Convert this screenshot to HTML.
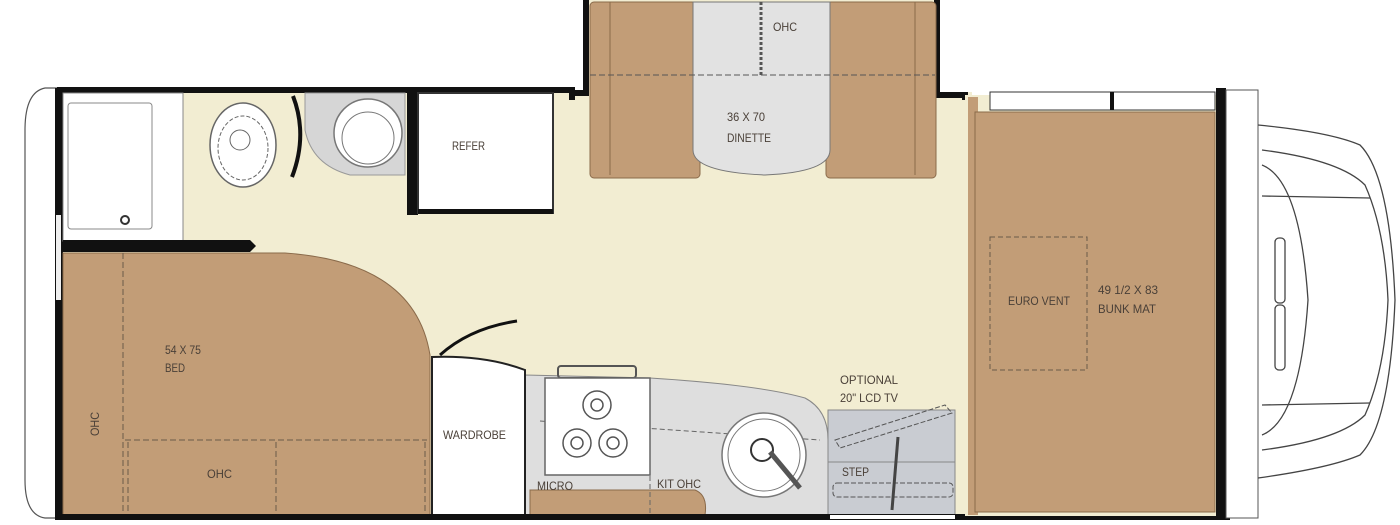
<!DOCTYPE html>
<html><head><meta charset="utf-8"><style>
html,body{margin:0;padding:0;background:#fff;}
svg{display:block;}
text{font-family:"Liberation Sans Narrow","Liberation Sans",sans-serif;font-size:12px;fill:#4a4038;}
</style></head><body>
<svg width="1400" height="525" viewBox="0 0 1400 525" xmlns="http://www.w3.org/2000/svg">
<path d="M57 88 L45 88 Q25 92 25 130 L25 480 Q25 515 45 518 L57 518 Z" fill="#fff" stroke="#555" stroke-width="1.2"/>
<rect x="60" y="92" width="912" height="424" fill="#f2edd2"/>
<rect x="588" y="0" width="348" height="100" fill="#f2edd2"/>
<path d="M572 100 L572 93 L586 93 L586 0" fill="none" stroke="#111" stroke-width="6"/>
<path d="M937 0 L937 95 L965 95 L965 100" fill="none" stroke="#111" stroke-width="6"/>
<rect x="57" y="87" width="518" height="6" fill="#111"/>
<rect x="590" y="2" width="110" height="176" rx="4" fill="#c29d77" stroke="#8a6a4a"/>
<line x1="610" y1="2" x2="610" y2="175" stroke="#8a6a4a"/>
<rect x="826" y="2" width="110" height="176" rx="4" fill="#c29d77" stroke="#8a6a4a"/>
<line x1="915" y1="2" x2="915" y2="175" stroke="#8a6a4a"/>
<path d="M693 2 L830 2 L830 150 Q830 172 765 175 Q693 172 693 150 Z" fill="#e2e2e2" stroke="#777"/>
<line x1="590" y1="75" x2="935" y2="75" stroke="#555" stroke-dasharray="6,3"/>
<line x1="761" y1="2" x2="761" y2="75" stroke="#555" stroke-width="3" stroke-dasharray="3,2"/>
<text x="773" y="31" textLength="24" lengthAdjust="spacingAndGlyphs">OHC</text>
<text x="727" y="121" textLength="38" lengthAdjust="spacingAndGlyphs">36 X 70</text>
<text x="727" y="142" textLength="44" lengthAdjust="spacingAndGlyphs">DINETTE</text>
<rect x="55" y="88" width="8" height="430" fill="#111"/>
<rect x="56" y="215" width="5" height="85" fill="#eee"/>
<rect x="63" y="93" width="120" height="148" fill="#fff" stroke="#888"/>
<rect x="68" y="103" width="84" height="126" rx="3" fill="#fff" stroke="#888"/>
<circle cx="125" cy="220" r="4" fill="none" stroke="#333" stroke-width="2"/>
<path d="M63 240 L250 240 L256 246 L250 252 L63 252 Z" fill="#111"/>
<ellipse cx="243" cy="145" rx="33" ry="42" fill="#fff" stroke="#666" stroke-width="1.5"/>
<ellipse cx="243" cy="148" rx="25" ry="32" fill="none" stroke="#666" stroke-dasharray="4,2"/>
<circle cx="240" cy="140" r="10" fill="none" stroke="#666"/>
<path d="M293 96 Q308 135 292 177" fill="none" stroke="#111" stroke-width="4"/>
<path d="M305 93 L405 93 L405 175 L350 175 Q312 165 305 130 Z" fill="#d6d6d6" stroke="#999"/>
<circle cx="368" cy="133" r="34" fill="#fff" stroke="#777" stroke-width="1.5"/>
<circle cx="368" cy="138" r="26" fill="#fff" stroke="#777"/>
<rect x="407" y="93" width="11" height="122" fill="#111"/>
<rect x="418" y="93" width="135" height="120" fill="#fff" stroke="#333" stroke-width="2"/>
<rect x="418" y="209" width="135" height="5" fill="#111"/>
<text x="452" y="150" textLength="33" lengthAdjust="spacingAndGlyphs">REFER</text>
<path d="M63 253 L285 253 Q415 262 430 355 L430 515 L63 515 Z" fill="#c29d77" stroke="#8a6a4a"/>
<line x1="123" y1="253" x2="123" y2="515" stroke="#6a5a4a" stroke-dasharray="6,3"/>
<line x1="125" y1="440" x2="427" y2="440" stroke="#6a5a4a" stroke-dasharray="6,3"/>
<line x1="128" y1="442" x2="128" y2="515" stroke="#6a5a4a" stroke-dasharray="6,3"/>
<line x1="276" y1="442" x2="276" y2="515" stroke="#6a5a4a" stroke-dasharray="6,3"/>
<line x1="425" y1="442" x2="425" y2="515" stroke="#6a5a4a" stroke-dasharray="6,3"/>
<text x="165" y="354" textLength="36" lengthAdjust="spacingAndGlyphs">54 X 75</text>
<text x="165" y="372" textLength="20" lengthAdjust="spacingAndGlyphs">BED</text>
<text x="0" y="0" transform="translate(99,436) rotate(-90)" textLength="24" lengthAdjust="spacingAndGlyphs">OHC</text>
<text x="207" y="478" textLength="25" lengthAdjust="spacingAndGlyphs">OHC</text>
<path d="M440 355 Q470 328 517 321" fill="none" stroke="#111" stroke-width="3"/>
<path d="M525 375 L650 378 Q760 385 805 398 Q828 410 828 440 L828 515 L525 515 Z" fill="#dedede" stroke="#888"/>
<path d="M530 490 L695 490 Q708 495 705 515 L530 515 Z" fill="#c29d77" stroke="#8a6a4a"/>
<line x1="547" y1="413" x2="650" y2="413" stroke="#666" stroke-dasharray="5,3"/>
<line x1="540" y1="421" x2="820" y2="440" stroke="#666" stroke-dasharray="5,3"/>
<line x1="650" y1="380" x2="650" y2="515" stroke="#666" stroke-dasharray="5,3"/>
<rect x="558" y="366" width="78" height="12" rx="3" fill="none" stroke="#555" stroke-width="2"/>
<rect x="545" y="378" width="105" height="97" fill="#fff" stroke="#666" stroke-width="1.5"/>
<g fill="none" stroke="#555" stroke-width="1.5">
<circle cx="597" cy="405" r="14"/><circle cx="597" cy="405" r="6"/>
<circle cx="577" cy="443" r="14"/><circle cx="577" cy="443" r="6"/>
<circle cx="613" cy="443" r="14"/><circle cx="613" cy="443" r="6"/>
</g>
<circle cx="764" cy="455" r="42" fill="#fff" stroke="#777" stroke-width="1.5"/>
<circle cx="764" cy="455" r="36" fill="none" stroke="#777"/>
<circle cx="762" cy="450" r="11" fill="#fff" stroke="#333" stroke-width="2"/>
<path d="M770 452 L800 488" stroke="#555" stroke-width="5" fill="none"/>
<text x="537" y="490" textLength="36" lengthAdjust="spacingAndGlyphs">MICRO</text>
<text x="657" y="488" textLength="44" lengthAdjust="spacingAndGlyphs">KIT OHC</text>
<path d="M432 357 Q485 355 525 370 L525 515 L432 515 Z" fill="#fff" stroke="#222" stroke-width="2"/>
<text x="443" y="439" textLength="63" lengthAdjust="spacingAndGlyphs">WARDROBE</text>
<rect x="828" y="410" width="127" height="105" fill="#c9ccd2" stroke="#888"/>
<line x1="828" y1="462" x2="955" y2="462" stroke="#888"/>
<path d="M835 440 L945 405 L952 413 L840 448 Z" fill="none" stroke="#555" stroke-dasharray="5,2"/>
<rect x="833" y="483" width="120" height="14" rx="4" fill="none" stroke="#555" stroke-dasharray="5,2"/>
<path d="M898 437 L892 510" stroke="#444" stroke-width="3"/>
<text x="840" y="384" textLength="58" lengthAdjust="spacingAndGlyphs">OPTIONAL</text>
<text x="840" y="402" textLength="58" lengthAdjust="spacingAndGlyphs">20" LCD TV</text>
<text x="842" y="476" textLength="27" lengthAdjust="spacingAndGlyphs">STEP</text>
<rect x="55" y="514" width="1175" height="6" fill="#111"/>
<rect x="830" y="515" width="125" height="4" fill="#fff"/>
<rect x="965" y="95" width="262" height="421" fill="#f2edd2"/>
<rect x="968" y="97" width="10" height="418" fill="#c29d77"/>
<rect x="975" y="112" width="240" height="400" fill="#c29d77" stroke="#8a6a4a"/>
<rect x="990" y="92" width="225" height="18" fill="#fff" stroke="#333"/>
<line x1="1112" y1="92" x2="1112" y2="110" stroke="#111" stroke-width="4"/>
<rect x="990" y="237" width="97" height="133" fill="none" stroke="#6a5a4a" stroke-dasharray="5,3"/>
<text x="1008" y="305" textLength="62" lengthAdjust="spacingAndGlyphs">EURO VENT</text>
<text x="1098" y="294" textLength="60" lengthAdjust="spacingAndGlyphs">49 1/2 X 83</text>
<text x="1098" y="313" textLength="58" lengthAdjust="spacingAndGlyphs">BUNK MAT</text>
<rect x="1216" y="88" width="10" height="432" fill="#111"/>
<rect x="1226" y="90" width="32" height="428" fill="#fff" stroke="#555"/>
<g fill="none" stroke="#444" stroke-width="1.3">
<path d="M1258 125 Q1330 132 1360 145 Q1390 175 1395 300 Q1390 425 1360 455 Q1330 468 1258 478"/>
<path d="M1262 150 Q1340 160 1365 185 Q1385 230 1388 300 Q1385 370 1365 415 Q1340 440 1262 450"/>
<path d="M1262 165 Q1300 180 1308 300 Q1300 420 1262 435"/>
<line x1="1262" y1="196" x2="1370" y2="198"/>
<line x1="1262" y1="405" x2="1370" y2="403"/>
<rect x="1275" y="238" width="10" height="65" rx="4"/>
<rect x="1275" y="305" width="10" height="65" rx="4"/>
</g>
</svg>
</body></html>
